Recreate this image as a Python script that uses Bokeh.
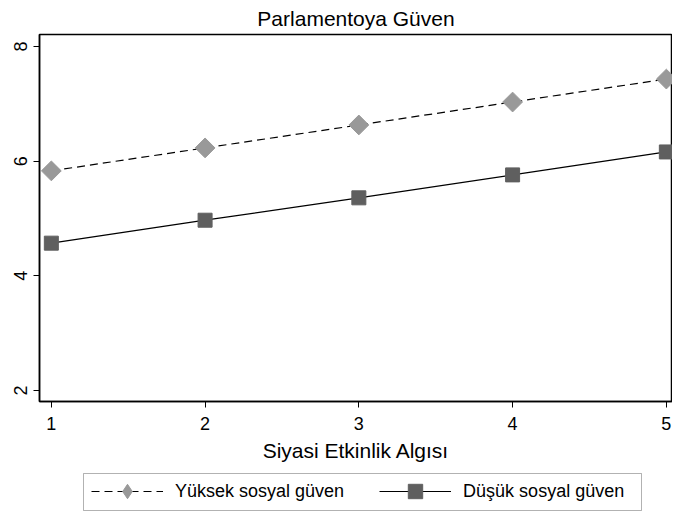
import math
from bokeh.plotting import figure
from bokeh.layouts import column
from bokeh.models import Legend, LegendItem, Range1d, FixedTicker, BoxAnnotation
from bokeh.embed import file_html
from bokeh.resources import INLINE

x_vals = [1, 2, 3, 4, 5]
yuksek = [5.83, 6.23, 6.63, 7.03, 7.43]
dusuk = [4.57, 4.97, 5.36, 5.76, 6.16]
x_ticks = [1, 2, 3, 4, 5]
y_ticks = [2, 4, 6, 8]
series_labels = ["Yüksek sosyal güven", "Düşük sosyal güven"]

FONT = "Liberation Sans"
DIAMOND_C = "#999999"
SQUARE_C = "#5f5f5f"
W = 672
LEFT = 39

p = figure(width=W, height=464, output_backend="svg", toolbar_location=None,
           x_range=Range1d(0.923, 5.04), y_range=Range1d(1.81, 8.207),
           min_border_left=LEFT, min_border_right=0, min_border_top=33, min_border_bottom=0)

p.title.text = "Parlamentoya Güven"
p.title.align = "center"
p.title.text_font = FONT
p.title.text_font_size = "21px"
p.title.text_font_style = "normal"
p.title.text_color = "black"
p.title.offset = 0
p.title.standoff = 9

p.xgrid.visible = False
p.ygrid.visible = False
p.outline_line_color = "black"
p.outline_line_width = 1.5

for ax in (p.xaxis[0], p.yaxis[0]):
    ax.axis_line_color = "black"
    ax.axis_line_width = 1.5
    ax.major_tick_line_color = "black"
    ax.major_tick_in = 0
    ax.major_tick_out = 6
    ax.minor_tick_line_color = None
    ax.major_label_text_font = FONT
    ax.major_label_text_font_size = "18px"
    ax.major_label_text_color = "black"

p.xaxis.ticker = FixedTicker(ticks=x_ticks)
p.yaxis.ticker = FixedTicker(ticks=y_ticks)
p.yaxis.major_label_orientation = "vertical"
p.yaxis.major_label_standoff = 6
p.xaxis.major_label_standoff = 9
p.xaxis.axis_label = "Siyasi Etkinlik Algısı"
p.xaxis.axis_label_text_font = FONT
p.xaxis.axis_label_text_font_size = "21px"
p.xaxis.axis_label_text_font_style = "normal"
p.xaxis.axis_label_text_color = "black"
p.xaxis.axis_label_standoff = 6

p.line(x_vals, yuksek, line_color="black", line_width=1.2, line_dash="8 5")
p.scatter(x_vals, yuksek, marker="square", angle=math.pi / 4, size=14,
          fill_color=DIAMOND_C, line_color=DIAMOND_C)
p.line(x_vals, dusuk, line_color="black", line_width=1.2)
p.scatter(x_vals, dusuk, marker="square", size=14, fill_color=SQUARE_C, line_color=SQUARE_C)

# legend-only figure; its frame is aligned with the main frame by the column,
# and its ranges are in pixels of that frame
LH = 48
lf = figure(width=W, height=LH, output_backend="svg", toolbar_location=None,
            x_range=Range1d(0, W - LEFT), y_range=Range1d(0, LH),
            min_border=0, outline_line_color=None)
lf.axis.visible = False
lf.grid.visible = False
lf.add_layout(BoxAnnotation(left=44, right=602, bottom=2, top=39,
                            fill_color=None, line_color="black", line_width=1))
ll1 = lf.line([-10, -9], [-10, -10], line_color="black", line_width=1.2, line_dash="8 5")
ls1 = lf.scatter([-10], [-10], marker="diamond", size=14,
                 fill_color=DIAMOND_C, line_color=DIAMOND_C)
ll2 = lf.line([-10, -9], [-10, -10], line_color="black", line_width=1.2)
ls2 = lf.scatter([-10], [-10], marker="square", size=14, fill_color=SQUARE_C, line_color=SQUARE_C)

legend = Legend(items=[LegendItem(label=series_labels[0], renderers=[ll1, ls1]),
                       LegendItem(label=series_labels[1], renderers=[ll2, ls2])],
                orientation="horizontal", location=(52, 3),
                glyph_width=72, glyph_height=36, label_standoff=12, spacing=35,
                padding=0, margin=0,
                border_line_color=None, background_fill_alpha=0,
                label_text_font=FONT, label_text_font_size="18px", label_text_color="black")
lf.add_layout(legend, "center")

layout = column(p, lf, spacing=0)
open("out.html", "w").write(file_html(layout, INLINE))
